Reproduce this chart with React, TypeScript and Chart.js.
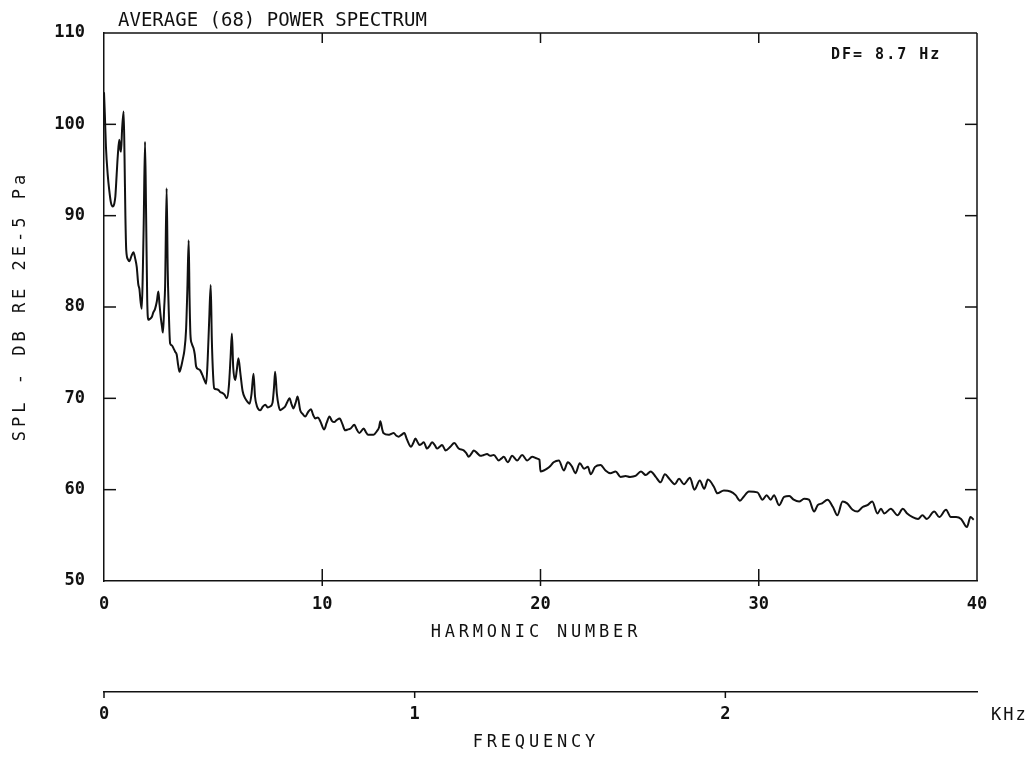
import { useEffect, useRef } from 'react';
import { Chart, registerables } from 'chart.js';

Chart.register(...registerables);

// Harmonic number (x) and SPL in dB re 2E-5 Pa (y)
const harmonic = [
  0.00, 0.04, 0.09, 0.17, 0.24, 0.32, 0.40, 0.47, 0.52, 0.58, 0.63, 0.70, 0.75, 0.78, 0.83, 0.90, 0.94, 0.98,
  1.02, 1.10, 1.16, 1.26, 1.35, 1.43, 1.50, 1.57, 1.62, 1.68, 1.73, 1.78, 1.82, 1.88, 1.93, 1.98,
  2.03, 2.10, 2.19, 2.26, 2.34, 2.42, 2.49, 2.54, 2.60, 2.66, 2.70, 2.76, 2.80, 2.87, 2.92, 2.96,
  3.03, 3.11, 3.18, 3.26, 3.33, 3.40, 3.46, 3.55, 3.62, 3.68, 3.76, 3.82, 3.88, 3.92, 3.96,
  4.02, 4.10, 4.16, 4.22, 4.32, 4.40, 4.50, 4.60, 4.68, 4.75, 4.82, 4.89, 4.94,
  5.00, 5.05, 5.15, 5.25, 5.32, 5.42, 5.52, 5.63, 5.72, 5.80, 5.86, 5.92,
  6.01, 6.08, 6.16, 6.25, 6.35, 6.47, 6.58, 6.67, 6.76, 6.85, 6.92,
  7.00, 7.08, 7.16, 7.28, 7.39, 7.50, 7.61, 7.72, 7.79, 7.84, 7.92,
  8.00, 8.07, 8.20, 8.30, 8.40, 8.50, 8.60, 8.68, 8.78, 8.87, 8.99,
  9.10, 9.22, 9.35, 9.48, 9.58, 9.68, 9.80, 9.91,
  10.09, 10.20, 10.33, 10.45, 10.55, 10.65, 10.80, 10.92,
  11.05, 11.18, 11.30, 11.47, 11.58, 11.70, 11.90,
  12.00, 12.10, 12.35, 12.50, 12.60, 12.66, 12.75, 12.80,
  13.04, 13.15, 13.27, 13.40, 13.50, 13.63, 13.76, 13.88,
  14.07, 14.17, 14.27, 14.37, 14.46, 14.55, 14.65, 14.80, 14.92,
  15.03, 15.15, 15.26, 15.38, 15.49, 15.65, 15.87,
  16.05, 16.25, 16.48, 16.60, 16.71, 16.85, 16.94,
  17.10, 17.25, 17.40, 17.55, 17.70, 17.86,
  18.09, 18.20, 18.32, 18.50, 18.70, 18.93,
  19.16, 19.39, 19.62, 19.85, 19.95,
  20.00, 20.15, 20.30, 20.45, 20.60, 20.84,
  21.07, 21.25, 21.45, 21.60, 21.80,
  22.00, 22.17, 22.30, 22.50, 22.75, 22.98,
  23.20, 23.44, 23.67, 23.90,
  24.10, 24.35, 24.60, 24.82,
  25.05, 25.28, 25.50, 25.70, 25.90,
  26.15, 26.35, 26.57, 26.85,
  27.05, 27.30, 27.50, 27.67, 27.95,
  28.10, 28.40, 28.70, 28.94,
  29.14, 29.30, 29.55, 29.94,
  30.17, 30.36, 30.55, 30.70, 30.93,
  31.16, 31.40, 31.60, 31.85,
  32.08, 32.30, 32.54, 32.70, 32.90,
  33.15, 33.40, 33.60, 33.84,
  34.05, 34.30, 34.52, 34.76, 34.98,
  35.20, 35.44, 35.60, 35.75,
  36.05, 36.36, 36.60, 36.80,
  37.05, 37.30, 37.50, 37.70,
  38.04, 38.27, 38.58, 38.80,
  39.04, 39.27, 39.54, 39.70, 39.85,
];

const spl = [
  103.5, 101.0, 97.5, 94.5, 92.8, 91.4, 91.0, 91.3, 92.1, 94.5, 96.5, 98.3, 97.2, 97.0, 99.5, 101.4, 96.5, 90.0,
  86.2, 85.2, 85.0, 85.6, 86.0, 85.3, 84.4, 82.5, 82.0, 80.5, 79.8, 84.0, 89.2, 98.1, 90.0, 80.8,
  78.6, 78.7, 78.9, 79.4, 79.8, 80.6, 81.7, 80.4, 78.9, 77.8, 77.2, 80.0, 82.3, 93.0, 84.0, 80.2,
  76.0, 75.8, 75.5, 75.1, 74.8, 73.6, 72.9, 73.6, 74.4, 75.2, 77.5, 82.0, 87.3, 81.0, 77.0,
  76.0, 75.5, 74.8, 73.5, 73.2, 73.1, 72.6, 72.0, 71.6, 74.2, 78.6, 82.4, 76.5,
  72.5, 71.1, 71.0, 70.9, 70.7, 70.6, 70.4, 70.0, 71.3, 74.5, 77.1, 73.4,
  72.0, 73.0, 74.4, 72.7, 70.8, 70.0, 69.6, 69.4, 70.5, 72.7, 70.2,
  69.2, 68.8, 68.7, 69.1, 69.3, 69.0, 69.1, 69.5, 71.2, 72.9, 70.5,
  69.2, 68.7, 68.9, 69.1, 69.6, 70.0, 69.3, 68.9, 69.5, 70.2, 68.7,
  68.3, 68.0, 68.5, 68.8, 68.2, 67.8, 67.9, 67.5,
  66.6, 67.3, 68.0, 67.5, 67.4, 67.6, 67.8, 67.2,
  66.5, 66.6, 66.7, 67.1, 66.6, 66.2, 66.7,
  66.3, 66.0, 66.0, 66.4, 66.8, 67.5, 66.6, 66.2,
  66.0, 66.1, 66.2, 65.9, 65.8, 66.0, 66.2, 65.5,
  64.7, 65.1, 65.6, 65.2, 64.9, 65.0, 65.2, 64.5, 64.8,
  65.2, 64.9, 64.5, 64.7, 64.9, 64.3, 64.7,
  65.1, 64.5, 64.3, 64.0, 63.6, 64.0, 64.3,
  64.0, 63.7, 63.8, 63.9, 63.7, 63.8,
  63.2, 63.4, 63.6, 63.0, 63.7, 63.2,
  63.8, 63.2, 63.6, 63.4, 63.3,
  62.0, 62.1, 62.3, 62.6, 63.0, 63.2,
  62.1, 63.0, 62.5, 61.8, 62.9,
  62.3, 62.5, 61.7, 62.5, 62.7, 62.1,
  61.8, 62.0, 61.4, 61.5,
  61.4, 61.5, 62.0, 61.6,
  62.0, 61.4, 60.8, 61.7, 61.2,
  60.6, 61.2, 60.6, 61.3,
  60.0, 61.0, 60.1, 61.1, 60.3,
  59.6, 59.9, 59.8, 59.4,
  58.8, 59.2, 59.8, 59.7,
  58.9, 59.4, 58.9, 59.4, 58.3,
  59.2, 59.3, 58.9, 58.7,
  59.0, 58.9, 57.6, 58.3, 58.5,
  58.9, 58.1, 57.2, 58.7,
  58.5, 57.8, 57.6, 58.1, 58.3,
  58.7, 57.4, 57.9, 57.4,
  57.9, 57.2, 57.9, 57.4,
  57.0, 56.8, 57.2, 56.8,
  57.6, 57.0, 57.8, 57.0,
  57.0, 56.8, 55.9, 57.0, 56.7,
];

const yTickValues = [60, 70, 80, 90, 100];
const xInnerTicks = [10, 20, 30];
const freqTickValues = [0, 1, 2];
const FREQ_MAX_KHZ = 2.81;

const TITLE = 'AVERAGE (68) POWER SPECTRUM';
const DF_LABEL = 'DF= 8.7 Hz';
const X_TITLE = 'HARMONIC NUMBER';
const Y_TITLE = 'SPL - DB RE 2E-5 Pa';
const F_TITLE = 'FREQUENCY';
const F_UNIT = 'KHz';

const INK = '#111111';
const MONO = '"DejaVu Sans Mono", "Liberation Mono", monospace';

const decoPlugin = {
  id: 'deco',
  afterDraw(chart: any) {
    const ctx: CanvasRenderingContext2D = chart.ctx;
    const { left, right, top, bottom } = chart.chartArea;
    const xs = chart.scales.x;
    const ys = chart.scales.y;
    const fs = chart.scales.x2;
    ctx.save();
    ctx.strokeStyle = INK;
    ctx.lineWidth = 1.5;
    const seg = (x1: number, y1: number, x2: number, y2: number) => {
      ctx.beginPath();
      ctx.moveTo(x1, y1);
      ctx.lineTo(x2, y2);
      ctx.stroke();
    };
    // top and right frame
    seg(left, top, right, top);
    seg(right, top, right, bottom);
    // inward ticks
    for (const v of yTickValues) {
      const y = ys.getPixelForValue(v);
      seg(left, y, left + 12, y);
      seg(right - 12, y, right, y);
    }
    for (const v of xInnerTicks) {
      const x = xs.getPixelForValue(v);
      seg(x, top, x, top + 10);
      seg(x, bottom - 12, x, bottom + 5);
    }
    for (const v of freqTickValues) {
      const x = fs.getPixelForValue(v);
      seg(x, fs.top, x, fs.top + 6);
    }

    ctx.fillStyle = INK;
    ctx.textBaseline = 'middle';
    const txt = (s: string, x: number, y: number, font: string, align: CanvasTextAlign, spacing: number) => {
      ctx.font = font;
      (ctx as any).letterSpacing = spacing + 'px';
      ctx.textAlign = align;
      const shift = align === 'center' ? spacing / 2 : 0;
      ctx.fillText(s, x + shift, y);
    };
    txt(TITLE, 118, 21, `19px ${MONO}`, 'left', 0);
    txt(DF_LABEL, 831, 55, `bold 15px ${MONO}`, 'left', 2);
    txt(X_TITLE, 534, 633, `17px ${MONO}`, 'center', 3.8);
    txt(F_TITLE, 534, 743, `17px ${MONO}`, 'center', 3.8);
    txt(F_UNIT, 991, 716, `17px ${MONO}`, 'left', 2);

    ctx.save();
    ctx.translate(21, 308);
    ctx.rotate(-Math.PI / 2);
    txt(Y_TITLE, 0, 0, `17px ${MONO}`, 'center', 4);
    ctx.restore();

    ctx.restore();
  },
};

export default function App() {
  const canvasRef = useRef<HTMLCanvasElement | null>(null);

  useEffect(() => {
    const canvas = canvasRef.current;
    if (!canvas) return;
    const points = harmonic.map((h, i) => ({ x: h, y: spl[i] }));
    const tickFont = { family: MONO, size: 17, weight: 'bold' as const };

    const chart = new Chart(canvas, {
      type: 'line',
      data: {
        datasets: [
          {
            data: points,
            xAxisID: 'x',
            yAxisID: 'y',
            borderColor: INK,
            borderWidth: 2,
            pointRadius: 0,
            cubicInterpolationMode: 'monotone',
            borderJoinStyle: 'round',
            fill: false,
          },
        ],
      },
      options: {
        animation: false,
        responsive: false,
        devicePixelRatio: 1,
        layout: { padding: { left: 0, right: 57, top: 33, bottom: 0 } },
        plugins: {
          legend: { display: false },
          tooltip: { enabled: false },
          title: { display: false },
        },
        scales: {
          x: {
            type: 'linear',
            position: 'bottom',
            weight: 0,
            min: 0,
            max: 40,
            ticks: { stepSize: 10, color: INK, font: tickFont, padding: 13, maxRotation: 0 },
            grid: { display: false, drawTicks: false },
            border: { display: true, color: INK, width: 1.5 },
            afterFit: (s: any) => {
              s.height = 111;
            },
          },
          x2: {
            type: 'linear',
            position: 'bottom',
            weight: 1,
            min: 0,
            max: FREQ_MAX_KHZ,
            ticks: { stepSize: 1, includeBounds: false, color: INK, font: tickFont, padding: 12, maxRotation: 0 },
            grid: { display: false, drawTicks: false },
            border: { display: true, color: INK, width: 1.5 },
            afterFit: (s: any) => {
              s.height = 78;
            },
          },
          y: {
            type: 'linear',
            position: 'left',
            min: 50,
            max: 110,
            ticks: { stepSize: 10, color: INK, font: tickFont, padding: 19 },
            grid: { display: false, drawTicks: false },
            border: { display: true, color: INK, width: 1.5 },
            afterFit: (s: any) => {
              s.width = 104;
            },
          },
        },
      },
      plugins: [decoPlugin],
    } as any);

    return () => chart.destroy();
  }, []);

  return (
    <div style={{ position: 'fixed', left: 0, top: 0, width: 1034, height: 770, background: '#fff' }}>
      <canvas ref={canvasRef} width={1034} height={770} />
    </div>
  );
}
